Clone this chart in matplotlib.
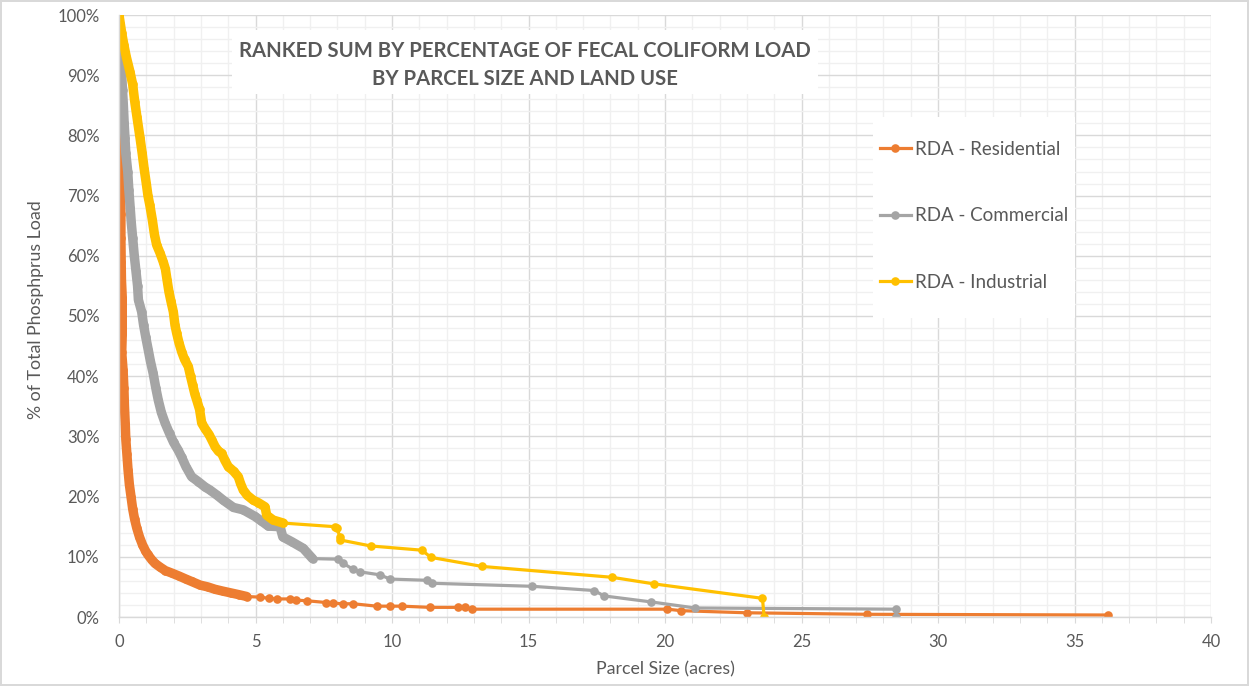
import matplotlib
matplotlib.use("Agg")
import matplotlib.pyplot as plt
from matplotlib.patches import Rectangle
from matplotlib.ticker import MultipleLocator

plt.rcParams['font.family'] = ['Lato', 'DejaVu Sans']

# Data: parcel size (acres) vs ranked cumulative % of load
res_x = [0.00, 0.00, 0.00, 0.00, 0.00, 0.00, 0.05, 0.06, 0.06, 0.07, 0.07, 0.08, 0.09,
         0.12, 0.12, 0.12, 0.10, 0.15, 0.18, 0.20, 0.23, 0.25, 0.29, 0.33, 0.38, 0.44,
         0.50, 0.57, 0.65, 0.75, 0.86, 0.97, 1.05, 1.20, 1.32, 1.50, 1.70, 1.93, 2.20,
         2.45, 2.66, 2.97, 3.25, 3.52, 3.80, 4.10, 4.40, 4.68, 5.16, 5.50, 5.78, 6.26,
         6.50, 6.88, 7.60, 7.85, 8.20, 8.58, 9.44, 9.93, 10.35, 11.40, 12.43, 12.67,
         12.92, 20.09, 20.59, 22.99, 27.40, 36.24]
res_y = [100.0, 96.0, 92.0, 88.0, 84.0, 82.0, 79.0, 75.0, 71.0, 67.0, 63.0, 59.0, 56.0,
         53.0, 50.0, 47.0, 44.0, 41.0, 38.0, 35.0, 32.0, 29.5, 27.0, 24.5, 22.0, 20.0,
         18.0, 16.3, 14.8, 13.3, 12.0, 11.0, 10.4, 9.5, 8.9, 8.3, 7.7, 7.3, 6.8,
         6.3, 5.9, 5.3, 5.0, 4.6, 4.3, 4.0, 3.7, 3.4, 3.3, 3.1, 3.0, 3.0,
         2.8, 2.7, 2.4, 2.3, 2.2, 2.2, 1.8, 1.8, 1.8, 1.6, 1.6, 1.6,
         1.3, 1.3, 1.05, 0.7, 0.45, 0.33]

com_x = [0.00, 0.02, 0.04, 0.07, 0.10, 0.13, 0.16, 0.19, 0.22, 0.25, 0.32, 0.36, 0.41,
         0.45, 0.50, 0.56, 0.62, 0.68, 0.71, 0.83, 0.90, 0.98, 1.07, 1.15, 1.25, 1.35,
         1.44, 1.55, 1.69, 1.85, 2.00, 2.17, 2.30, 2.45, 2.66, 2.90, 3.15, 3.33, 3.60,
         3.82, 4.19, 4.55, 4.98, 5.20, 5.47, 5.90, 6.00, 6.33, 6.75, 7.09, 8.03, 8.22,
         8.58, 8.83, 9.56, 9.93, 11.27, 11.48, 15.14, 17.40, 17.77, 19.50, 21.10,
         28.46, 28.46]
com_y = [99.5, 97.5, 96.0, 93.0, 90.0, 87.5, 85.0, 82.0, 79.5, 77.0, 74.0, 71.0, 68.0,
         65.5, 63.0, 60.0, 57.5, 55.0, 52.7, 50.7, 48.5, 46.5, 44.4, 42.5, 40.5, 38.0,
         36.0, 34.0, 32.2, 30.5, 29.0, 27.7, 26.5, 25.0, 23.3, 22.5, 21.6, 21.1, 20.2,
         19.4, 18.2, 17.8, 16.7, 16.0, 15.1, 15.0, 13.3, 12.5, 11.4, 9.7, 9.6, 8.9,
         7.9, 7.5, 7.0, 6.3, 6.1, 5.6, 5.1, 4.4, 3.5, 2.5, 1.5,
         1.3, 0.05]

ind_x = [0.00, 0.05, 0.10, 0.18, 0.27, 0.40, 0.50, 0.58, 0.66, 0.77, 0.85, 0.92, 1.00,
         1.06, 1.13, 1.22, 1.30, 1.38, 1.50, 1.62, 1.70, 1.76, 1.83, 1.90, 1.99, 2.05,
         2.11, 2.20, 2.30, 2.40, 2.54, 2.62, 2.70, 2.78, 2.85, 2.95, 3.03, 3.15, 3.30,
         3.40, 3.52, 3.65, 3.76, 3.88, 4.00, 4.20, 4.37, 4.45, 4.55, 4.70, 4.92, 5.10,
         5.35, 5.41, 5.65, 6.02, 7.91, 7.97, 8.10, 8.10, 9.22, 11.09, 11.43, 13.30,
         18.05, 19.60, 23.57, 23.63]
ind_y = [100.0, 98.5, 97.0, 95.0, 93.0, 90.6, 88.5, 85.5, 83.0, 79.6, 77.0, 74.5, 72.0,
         70.0, 68.4, 66.0, 63.5, 61.8, 60.5, 59.0, 57.8, 56.0, 54.0, 52.5, 50.7, 48.5,
         47.2, 45.5, 44.0, 42.8, 41.6, 40.0, 38.5, 37.0, 36.0, 34.5, 32.2, 31.3, 30.3,
         29.4, 28.3, 27.5, 27.2, 26.0, 25.0, 24.2, 23.3, 22.2, 21.1, 20.2, 19.4, 19.0,
         18.3, 16.9, 16.1, 15.6, 15.0, 14.8, 13.3, 12.8, 11.8, 11.1, 9.9, 8.4,
         6.6, 5.5, 3.1, 0.05]

series = [
    ("RDA - Residential", res_x, res_y, "#ED7D31", 4.7),
    ("RDA - Commercial", com_x, com_y, "#A5A5A5", 7.1),
    ("RDA - Industrial", ind_x, ind_y, "#FFC000", 6.05),
]

y_ticks = [0, 10, 20, 30, 40, 50, 60, 70, 80, 90, 100]
y_labels = [f"{v}%" for v in y_ticks]
x_ticks = [0, 5, 10, 15, 20, 25, 30, 35, 40]

txt = "#595959"
W, H = 1249, 686
fig = plt.figure(figsize=(12.49, 6.86), dpi=100)
fig.patch.set_edgecolor("#D9D9D9")
fig.patch.set_linewidth(1.5)
ax = fig.add_axes([119 / W, 1 - 617 / H, 1092 / W, 602 / H])

handles = []
for name, xs, ys, col, dense in series:
    # the crowded start of each curve reads as a solid thick band
    n = sum(1 for v in xs if v <= dense)
    ax.plot(xs[:n], ys[:n], color=col, lw=6.8, solid_capstyle="round",
            solid_joinstyle="round", zorder=2)
    h, = ax.plot(xs, ys, color=col, lw=2.3, marker="o", ms=6.2, mew=0,
                 solid_joinstyle="round", zorder=2, label=name)
    handles.append(h)

ax.set_xlim(0, 40)
ax.set_ylim(0, 100)
ax.set_xticks(x_ticks)
ax.set_yticks(y_ticks)
ax.set_yticklabels(y_labels)
ax.xaxis.set_minor_locator(MultipleLocator(1))
ax.yaxis.set_minor_locator(MultipleLocator(2))
ax.set_axisbelow(True)
ax.grid(which="major", color="#D9D9D9", lw=1.0)
ax.grid(which="minor", color="#F0F0F0", lw=1.0)

for s in ["top", "right"]:
    ax.spines[s].set_visible(False)
for s in ["left", "bottom"]:
    ax.spines[s].set_color("#D9D9D9")
    ax.spines[s].set_linewidth(1.0)

ax.tick_params(axis="x", which="both", direction="out", length=4, color="#D9D9D9",
               labelcolor=txt, labelsize=12, pad=8)
ax.tick_params(axis="y", which="both", length=0, labelcolor=txt, labelsize=12, pad=14)

ax.set_xlabel("Parcel Size (acres)", color=txt, fontsize=12.8)
ax.set_ylabel("% of Total Phosphprus Load", color=txt, fontsize=12.8)
ax.xaxis.set_label_coords(0.5, -0.073)
ax.yaxis.set_label_coords(-0.069, 0.51)

# title box
ax.add_patch(Rectangle((232 / W, 1 - 94 / H), 586 / W, 64 / H, transform=fig.transFigure,
                       facecolor="white", edgecolor="none", zorder=1))
fig.text(525 / W, 1 - 65 / H,
         "RANKED SUM BY PERCENTAGE OF FECAL COLIFORM LOAD\nBY PARCEL SIZE AND LAND USE",
         ha="center", va="center", fontsize=14.6, fontweight="bold", color=txt,
         linespacing=1.55)

# legend box
ax.add_patch(Rectangle((873 / W, 1 - 318 / H), 202 / W, 201 / H, transform=fig.transFigure,
                       facecolor="white", edgecolor="none", zorder=3))
leg = ax.legend(handles=handles, loc="upper left", bbox_to_anchor=(880 / W, 1 - 141 / H),
                bbox_transform=fig.transFigure, frameon=False, fontsize=13.5,
                borderpad=0, borderaxespad=0, handlelength=1.65, handletextpad=0.2,
                labelspacing=2.63, labelcolor=txt)
leg.set_zorder(4)

fig.savefig("out.png", dpi=100)
